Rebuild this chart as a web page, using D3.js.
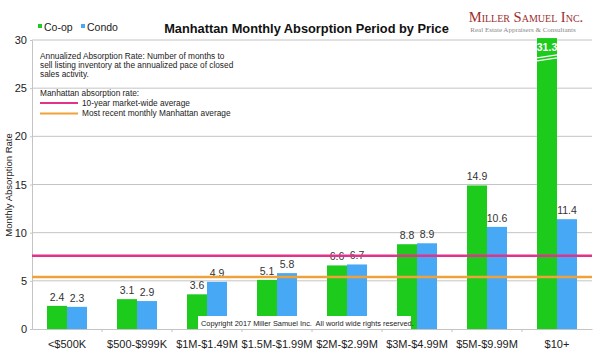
<!DOCTYPE html>
<html><head><meta charset="utf-8">
<script src="https://cdn.jsdelivr.net/npm/d3@7"></script>
<style>body{margin:0;background:#fff}svg{display:block}text{font-family:"Liberation Sans",Arial,sans-serif}</style>
</head><body>
<svg id="c" width="600" height="358"></svg>
<script>
const categories = ["<$500K","$500-$999K","$1M-$1.49M","$1.5M-$1.99M","$2M-$2.99M","$3M-$4.99M","$5M-$9.99M","$10+"];
const coop = [2.4,3.1,3.6,5.1,6.6,8.8,14.9,31.3];
const condo = [2.3,2.9,4.9,5.8,6.7,8.9,10.6,11.4];
const yTicks = [0,5,10,15,20,25,30];
const tenYearAvg = 7.6;
const recentAvg = 5.4;
const series = [{key:"Co-op",values:coop,color:"#1ccb1c"},{key:"Condo",values:condo,color:"#47a9f5"}];

const svg = d3.select("#c");
const L=32,R=592,T=40,B=329;
const x0 = d3.scaleBand().domain(categories).range([L,R]).padding(0);
const x1 = d3.scaleBand().domain(series.map(s=>s.key)).range([15,55]);
const y = d3.scaleLinear().domain([0,30]).range([B,T]);

// gridlines
svg.append("g").selectAll("line").data(yTicks.filter(d=>d>0)).join("line")
  .attr("x1",L).attr("x2",R).attr("y1",d=>y(d)).attr("y2",d=>y(d))
  .attr("stroke","#c4c4c4").attr("stroke-width",1);

// y axis
const ya = svg.append("g").attr("transform",`translate(${L},0)`).call(d3.axisLeft(y).tickValues(yTicks).tickSize(2).tickPadding(3));
ya.select(".domain").attr("stroke","#c4c4c4");
ya.selectAll(".tick line").attr("stroke","#c4c4c4");
ya.selectAll("text").attr("font-size",11).attr("fill","#222").style("font-family","Liberation Sans, Arial");

// x axis
const xa = svg.append("g").attr("transform",`translate(0,${B})`).call(d3.axisBottom(x0).tickSize(0).tickPadding(11));
xa.select(".domain").attr("stroke","#c4c4c4");
xa.selectAll("text").attr("font-size",11).attr("fill","#222").style("font-family","Liberation Sans, Arial");
svg.append("g").selectAll("line").data(categories.slice(1)).join("line")
  .attr("x1",d=>x0(d)).attr("x2",d=>x0(d)).attr("y1",B).attr("y2",B+3).attr("stroke","#c4c4c4");

// bars
const yMax = 30.2;
const groups = svg.append("g").selectAll("g").data(categories).join("g")
  .attr("transform",d=>`translate(${x0(d)},0)`);
series.forEach(s=>{
  groups.append("rect")
    .attr("x",x1(s.key)).attr("width",x1.bandwidth())
    .attr("y",(d,i)=>y(Math.min(s.values[i],yMax)))
    .attr("height",(d,i)=>B-y(Math.min(s.values[i],yMax)))
    .attr("fill",s.color);
});

// value labels
series.forEach(s=>{
  groups.append("text")
    .attr("x",x1(s.key)+x1.bandwidth()/2)
    .attr("y",(d,i)=>s.values[i]>yMax ? y(yMax)+13 : y(s.values[i])-5)
    .attr("text-anchor","middle").attr("font-size",10.5)
    .attr("fill",(d,i)=>s.values[i]>yMax?"#fff":"#333")
    .attr("font-weight",(d,i)=>s.values[i]>yMax?"bold":"normal")
    .text((d,i)=>s.values[i].toFixed(1));
});

// break marks on clipped bar
coop.forEach((v,i)=>{
  if(v>yMax){
    const bx=x0(categories[i])+x1("Co-op"), bw=x1.bandwidth(), yb=y(28.3);
    [0,3].forEach(o=>{
      svg.append("line").attr("x1",bx).attr("x2",bx+bw).attr("y1",yb+o+1.5).attr("y2",yb+o-1.5)
        .attr("stroke","#fff").attr("stroke-width",1.2);
    });
  }
});

// reference lines
svg.append("line").attr("x1",L).attr("x2",R).attr("y1",y(tenYearAvg)).attr("y2",y(tenYearAvg))
  .attr("stroke","#e2338b").attr("stroke-width",2.5);
svg.append("line").attr("x1",L).attr("x2",R).attr("y1",y(recentAvg)).attr("y2",y(recentAvg))
  .attr("stroke","#f0a23a").attr("stroke-width",2.5);

// copyright
svg.append("rect").attr("x",198).attr("y",316).attr("width",213).attr("height",13).attr("fill","#fff");
svg.append("text").attr("x",201).attr("y",326).attr("font-size",7.4).attr("fill","#222")
  .style("white-space","pre")
  .text("Copyright 2017 Miller Samuel Inc.  All world wide rights reserved.");

// annotation
const ann = svg.append("g").attr("font-size",8.3).attr("fill","#222");
["Annualized Absorption Rate: Number of months to","sell listing inventory at the annualized pace of closed","sales activity."]
  .forEach((t,i)=>ann.append("text").attr("x",40).attr("y",58.5+i*9).text(t));
ann.append("text").attr("x",40).attr("y",96).text("Manhattan absorption rate:");
ann.append("line").attr("x1",40).attr("x2",78).attr("y1",103).attr("y2",103).attr("stroke","#e2338b").attr("stroke-width",2.2);
ann.append("text").attr("x",82).attr("y",106).text("10-year market-wide average");
ann.append("line").attr("x1",40).attr("x2",78).attr("y1",113.5).attr("y2",113.5).attr("stroke","#f0a23a").attr("stroke-width",2.2);
ann.append("text").attr("x",82).attr("y",116).text("Most recent monthly Manhattan average");

// y label
svg.append("text").attr("transform","translate(12,185) rotate(-90)").attr("text-anchor","middle")
  .attr("font-size",9.5).attr("fill","#222").text("Monthly Absorption Rate");

// legend
const lg = svg.append("g");
series.forEach((s,i)=>{
  const lx = i===0?38:81;
  lg.append("rect").attr("x",lx).attr("y",24).attr("width",4).attr("height",4).attr("fill",s.color);
  lg.append("text").attr("x",lx+6).attr("y",31).attr("font-size",10.5).attr("fill","#222").text(s.key);
});

// title
svg.append("text").attr("x",306.5).attr("y",33).attr("text-anchor","middle").attr("font-size",12.8).attr("font-weight","bold")
  .attr("fill","#111").text("Manhattan Monthly Absorption Period by Price");

// logo
svg.append("text").attr("x",526).attr("y",22).attr("text-anchor","middle").attr("fill","#9a2e2e")
  .style("font-family","Liberation Serif, serif").style("font-variant","small-caps").attr("font-size",14.5).text("Miller Samuel Inc.");
svg.append("text").attr("x",523).attr("y",32).attr("text-anchor","middle").attr("fill","#888")
  .style("font-family","Liberation Serif, serif").attr("font-size",7).text("Real Estate Appraisers & Consultants");
</script>
</body></html>
